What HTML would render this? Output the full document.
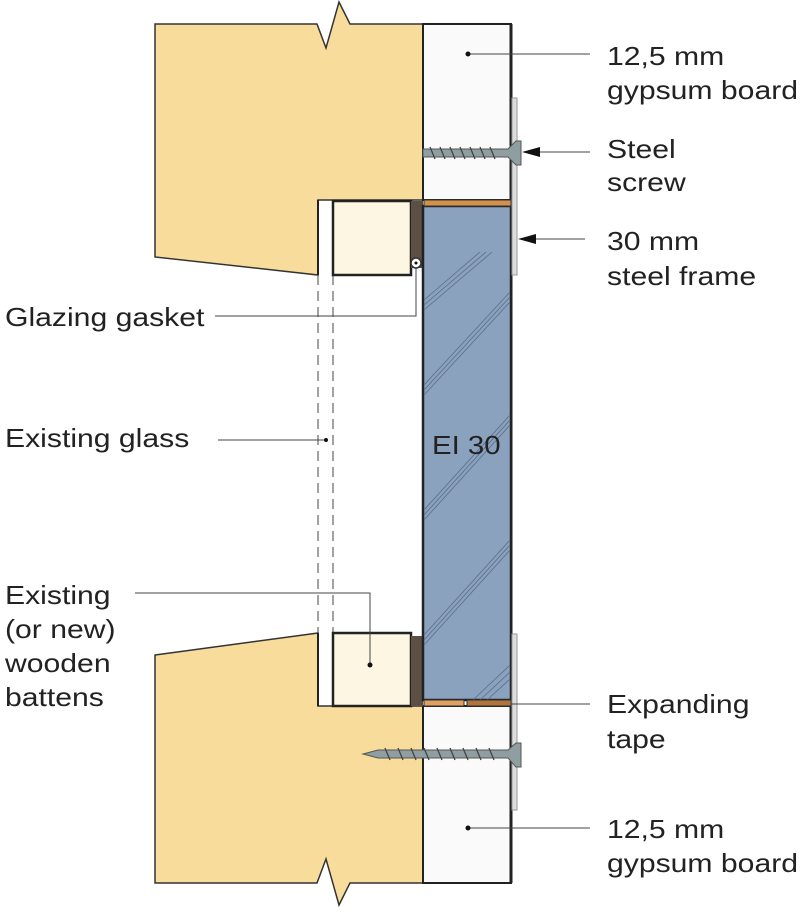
<!DOCTYPE html>
<html><head><style>
html,body{margin:0;padding:0;background:#fff;}
svg{display:block;}
text{font-family:"Liberation Sans",Arial,sans-serif;font-size:26px;fill:#222;}
</style></head><body>
<svg width="800" height="916" viewBox="0 0 800 916" xmlns="http://www.w3.org/2000/svg">
<!-- top wood -->
<path d="M155,24 L317,24 L326,48 L339,2 L350,24 L423,24 L423,200 L318,200 L318,275 L155,257 Z" fill="#f7dc9c" stroke="#333" stroke-width="1.5"/>
<!-- bottom wood -->
<path d="M155,655 L318,633 L318,706 L423,706 L423,883 L350,883 L339,905 L326,859 L317,883 L155,883 Z" fill="#f7dc9c" stroke="#333" stroke-width="1.5"/>
<!-- gypsum -->
<rect x="423" y="24" width="88" height="176" fill="#fafafa" stroke="#222" stroke-width="2"/>
<rect x="423" y="706" width="88" height="177" fill="#fafafa" stroke="#222" stroke-width="2"/>
<line x1="511" y1="24" x2="511" y2="883" stroke="#222" stroke-width="3"/>
<!-- glass strips -->
<line x1="318" y1="275" x2="318" y2="633" stroke="#444" stroke-width="1" stroke-dasharray="10,6"/>
<line x1="333" y1="275" x2="333" y2="633" stroke="#444" stroke-width="1" stroke-dasharray="10,6"/>
<line x1="318" y1="200" x2="318" y2="275" stroke="#222" stroke-width="2"/>
<line x1="318" y1="633" x2="318" y2="706" stroke="#222" stroke-width="2"/>
<!-- battens -->
<rect x="333" y="201" width="78" height="74" fill="#fdf6e3" stroke="#222" stroke-width="2.5"/>
<rect x="333" y="633" width="78" height="73" fill="#fdf6e3" stroke="#222" stroke-width="2.5"/>
<rect x="411" y="201" width="12" height="67" fill="#5e4f45"/>
<rect x="411" y="636" width="12" height="70" fill="#5e4f45"/>
<!-- fire glass -->
<rect x="423" y="206" width="88" height="494" fill="#8aa2be" stroke="#222" stroke-width="2.5"/>
<g stroke="#5a6e88" stroke-width="0.8" fill="none">
<path d="M424,300 L480,252 M424,305 L486,252 M424,310 L492,252"/>
<path d="M424,385 L510,292 M424,390 L510,297 M424,395 L510,302"/>
<path d="M424,510 L510,415 M424,515 L510,420 M424,520 L510,425"/>
<path d="M424,635 L510,540 M424,640 L510,545 M424,645 L510,550"/>
<path d="M473,700 L510,665 M480,700 L510,672 M487,700 L510,679"/>
</g>
<text transform="translate(432,454) scale(1.13,1)" font-size="27">EI 30</text>
<!-- tapes -->
<rect x="424" y="200" width="87" height="6" fill="#d4914c" stroke="#333" stroke-width="1"/>
<rect x="424" y="700" width="40" height="6" fill="#e0a060" stroke="#333" stroke-width="1"/>
<rect x="467" y="700" width="44" height="6" fill="#b0743c" stroke="#333" stroke-width="1"/>
<!-- steel frame -->
<rect x="512" y="98" width="5" height="177" fill="#ddd" stroke="#999" stroke-width="1"/>
<rect x="512" y="634" width="5" height="176" fill="#ddd" stroke="#999" stroke-width="1"/>
<!-- screws -->
<g>
<path d="M423,149 L508,149 L516,141 L521,141 L521,165 L516,165 L508,157 L423,157 Z" fill="#8f9ea0" stroke="#555" stroke-width="1"/>
<path d="M430,147 l5,12 M440,147 l5,12 M450,147 l5,12 M460,147 l5,12 M470,147 l5,12 M480,147 l5,12 M490,147 l5,12" stroke="#444" stroke-width="1.3"/>
<path d="M363,754 L378,750 L508,750 L516,743 L521,743 L521,767 L516,767 L508,758 L378,758 Z" fill="#8f9ea0" stroke="#555" stroke-width="1"/>
<path d="M385,748 l5,12 M398,748 l5,12 M411,748 l5,12 M424,748 l5,12 M437,748 l5,12 M450,748 l5,12 M463,748 l5,12 M476,748 l5,12 M489,748 l5,12" stroke="#444" stroke-width="1.3"/>
</g>
<!-- leaders -->
<g stroke="#444" stroke-width="1" fill="none">
<line x1="468" y1="54" x2="590" y2="54"/>
<line x1="532" y1="152" x2="590" y2="152"/>
<line x1="522" y1="239" x2="585" y2="239"/>
<line x1="511" y1="704" x2="590" y2="704"/>
<line x1="468" y1="828" x2="590" y2="828"/>
<polyline points="416,263 416,316 215,316"/>
<line x1="218" y1="440" x2="326" y2="440"/>
<polyline points="135,593 370,593 370,665"/>
</g>
<path d="M522,152 L540,147 L540,157 Z" fill="#111"/>
<path d="M518,239 L536,234 L536,244 Z" fill="#111"/>
<circle cx="468" cy="54" r="2.5" fill="#111"/>
<circle cx="468" cy="828" r="2.5" fill="#111"/>
<circle cx="370" cy="665" r="2.5" fill="#111"/>
<circle cx="326" cy="440" r="2" fill="#111"/>
<circle cx="416" cy="263" r="5" fill="#fff" stroke="#333" stroke-width="1.5"/>
<circle cx="416" cy="263" r="1.5" fill="#111"/>
<!-- labels -->
<g>
<text transform="translate(607,65) scale(1.16,1)">12,5 mm</text>
<text transform="translate(607,99) scale(1.16,1)">gypsum board</text>
<text transform="translate(607,158) scale(1.16,1)">Steel</text>
<text transform="translate(607,191) scale(1.16,1)">screw</text>
<text transform="translate(607,250) scale(1.16,1)">30 mm</text>
<text transform="translate(607,285) scale(1.16,1)">steel frame</text>
<text transform="translate(607,713) scale(1.16,1)">Expanding</text>
<text transform="translate(607,748) scale(1.16,1)">tape</text>
<text transform="translate(607,838) scale(1.16,1)">12,5 mm</text>
<text transform="translate(607,872) scale(1.16,1)">gypsum board</text>
<text transform="translate(5,326) scale(1.16,1)">Glazing gasket</text>
<text transform="translate(5,447) scale(1.16,1)">Existing glass</text>
<text transform="translate(5,604) scale(1.16,1)">Existing</text>
<text transform="translate(5,638) scale(1.16,1)">(or new)</text>
<text transform="translate(5,672) scale(1.16,1)">wooden</text>
<text transform="translate(5,706) scale(1.16,1)">battens</text>
</g>
</svg>
</body></html>
